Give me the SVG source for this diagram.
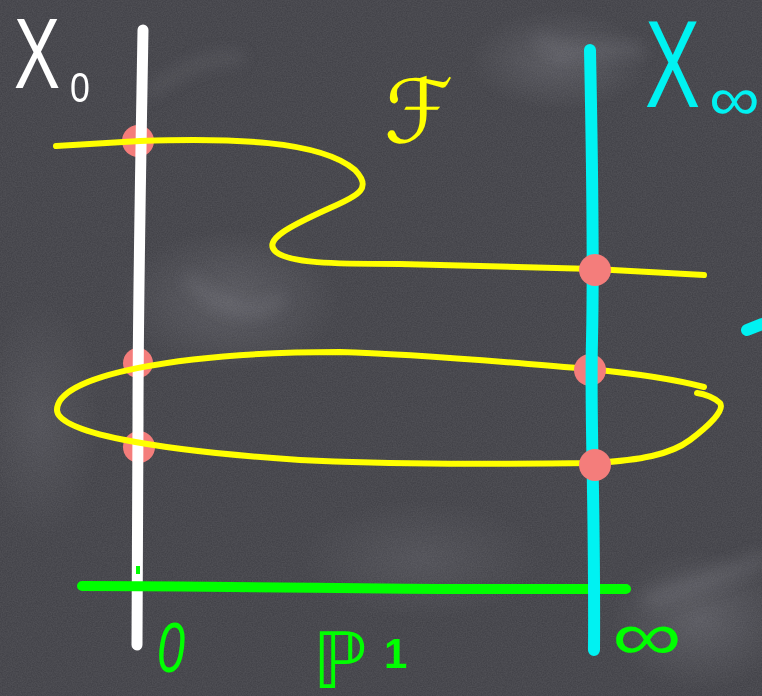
<svg xmlns="http://www.w3.org/2000/svg" width="762" height="696" viewBox="0 0 762 696">
  <defs>
    <filter id="chalk" x="0" y="0" width="100%" height="100%">
      <feTurbulence type="fractalNoise" baseFrequency="0.8" numOctaves="2" seed="3" result="n"/>
      <feColorMatrix in="n" type="matrix" values="0 0 0 0 1  0 0 0 0 1  0 0 0 0 1  0 0 0 0.12 -0.02" result="w"/>
      <feComposite in="w" in2="SourceGraphic" operator="in"/>
    </filter>
    <filter id="blur8"><feGaussianBlur stdDeviation="8"/></filter>
    <radialGradient id="glow" cx="0.5" cy="0.5" r="0.5">
      <stop offset="0" stop-color="#7a7a82" stop-opacity="0.4"/>
      <stop offset="1" stop-color="#7a7a82" stop-opacity="0"/>
    </radialGradient>
    <style>
      .bg { fill: #424248; }
      .white { stroke: #ffffff; fill: none; stroke-width: 11; stroke-linecap: round; stroke-linejoin: round; }
      .cyan { stroke: #00f2f2; fill: none; stroke-width: 12; stroke-linecap: round; stroke-linejoin: round; }
      .green { stroke: #00ff00; fill: none; stroke-width: 10; stroke-linecap: round; stroke-linejoin: round; }
      .yellow { stroke: #ffff00; fill: none; stroke-width: 6; stroke-linecap: round; stroke-linejoin: round; }
      .dot { fill: #f47d7b; }
      .smudge { stroke: #8a8a92; fill: none; stroke-linecap: round; opacity: 0.25; }
      .lbl { font-family: "Liberation Sans", "DejaVu Sans", sans-serif; }
      .math { font-family: "DejaVu Sans", "Liberation Sans", sans-serif; }
    </style>
  </defs>

  <!-- chalkboard background -->
  <g id="board">
    <rect class="bg" x="0" y="0" width="762" height="696"/>
    <ellipse cx="230" cy="300" rx="110" ry="70" fill="url(#glow)"/>
    <ellipse cx="560" cy="60" rx="90" ry="50" fill="url(#glow)"/>
    <ellipse cx="700" cy="620" rx="90" ry="70" fill="url(#glow)"/>
    <ellipse cx="420" cy="560" rx="120" ry="60" fill="url(#glow)" opacity="0.6"/>
    <ellipse cx="40" cy="420" rx="60" ry="120" fill="url(#glow)" opacity="0.6"/>
    <g filter="url(#blur8)">
      <path class="smudge" stroke-width="8" d="M150,92 C180,70 210,55 240,58"/>
      <path class="smudge" stroke-width="10" d="M540,40 C570,60 600,45 640,50"/>
      <path class="smudge" stroke-width="14" d="M650,600 L762,560"/>
      <path class="smudge" stroke-width="10" d="M190,280 C220,310 250,320 280,300"/>
    </g>
    <rect x="0" y="0" width="762" height="696" fill="#000" filter="url(#chalk)"/>
  </g>

  <!-- left intersection points (under the white fibre) -->
  <g id="points-X0">
    <circle class="dot" cx="138" cy="141" r="16"/>
    <circle class="dot" cx="138" cy="363" r="15"/>
    <circle class="dot" cx="139" cy="447" r="16"/>
  </g>

  <!-- fibre X_0 -->
  <g id="fiber-X0">
    <path class="white" d="M143,30 C141,150 138,300 138,420 C137,520 137,600 137,645"/>
    <text class="lbl" transform="translate(14,88) scale(0.69,1)" font-size="100" fill="#ffffff">X</text>
    <text class="lbl" transform="translate(70,102) scale(0.85,1)" font-size="42" fill="#ffffff">0</text>
  </g>

  <!-- base P^1 -->
  <g id="base-P1">
    <path class="green" d="M82,586 C250,586 400,590 500,589 C560,589 600,589 626,589"/>
    <rect x="136" y="566" width="4" height="8" fill="#00ff00"/>
    <text class="lbl" transform="translate(157,672) scale(0.72,1)" font-size="70" fill="#00ff00" font-style="italic">0</text>
    <text class="math" x="312" y="688" font-size="78" fill="#00ff00">ℙ</text>
    <text class="lbl" x="384" y="668" font-size="42" fill="#00ff00" font-weight="bold">1</text>
    <text class="lbl" transform="translate(612,660) scale(1.4,1)" font-size="70" fill="#00ff00">∞</text>
  </g>

  <!-- connectors: the curve F -->
  <g id="curve-F">
    <path class="yellow" d="M56,146 L140,141 C230,138 320,140 355,170 C372,188 360,195 330,208 C290,226 262,240 276,252 C290,263 330,264 400,264 L594,269 L704,275"/>
    <path class="yellow" d="M704,387 C670,378 620,372 590,369 C500,362 420,354 340,352 C180,352 57,375 57,410 C57,432 150,450 300,460 C400,465 500,464 595,463 C640,460 670,455 690,440 C710,425 725,410 720,403 C715,398 705,394 697,393"/>
    <text class="math" x="384" y="142" font-size="88" fill="#ffff00">ℱ</text>
  </g>

  <!-- fibre X_infinity -->
  <g id="fiber-Xinf">
    <circle class="dot" cx="590" cy="370" r="16"/>
    <path class="cyan" d="M590,50 C592,150 594,250 592,340 C590,420 595,500 594,650"/>
    <path class="cyan" stroke-width="6" d="M747,330 L762,324"/>
    <text class="lbl" transform="translate(645,107) scale(0.66,1)" font-size="125" fill="#00f2f2">X</text>
    <text class="lbl" transform="translate(709,120) scale(1.15,1)" font-size="62" fill="#00f2f2">∞</text>
  </g>

  <!-- right intersection points -->
  <g id="points-Xinf">
    <circle class="dot" cx="595" cy="270" r="16"/>
    <circle class="dot" cx="595" cy="465" r="16"/>
  </g>
</svg>
